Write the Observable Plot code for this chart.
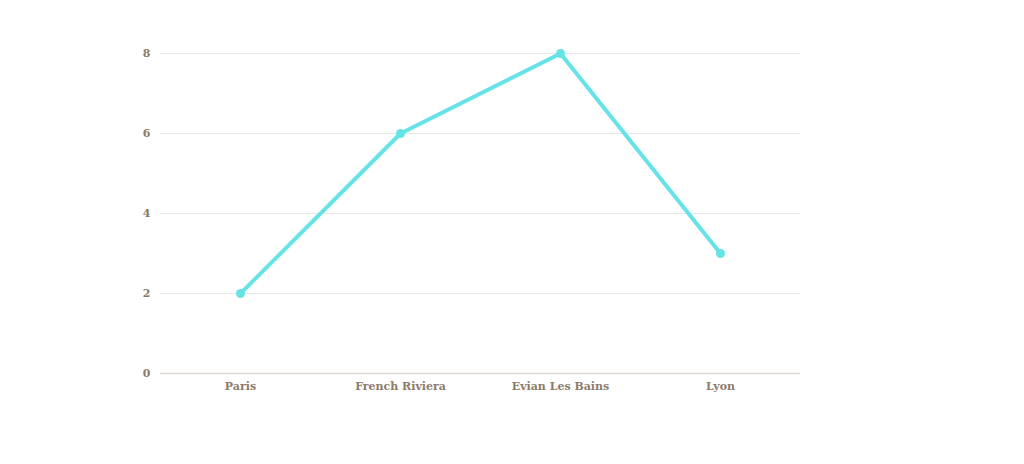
<!DOCTYPE html>
<html><head><meta charset="utf-8">
<script src="https://cdn.jsdelivr.net/npm/d3@7"></script>
<script src="https://cdn.jsdelivr.net/npm/@observablehq/plot@0.6"></script>
<style>
html,body{margin:0;padding:0;background:#fff;}
</style>
</head><body>
<div id="chart"></div>
<script>
const cities = ["Paris", "French Riviera", "Evian Les Bains", "Lyon"];
const values = [2, 6, 8, 3];
const yTicks = [0, 2, 4, 6, 8];

const data = cities.map((c, i) => ({city: c, value: values[i]}));
const textColor = "#8c7b6a";

const chart = Plot.plot({
  width: 1024,
  height: 464,
  marginLeft: 160,
  marginRight: 224,
  marginTop: 53,
  marginBottom: 91,
  style: {fontFamily: "'DejaVu Serif', serif", fontSize: "11px", fontWeight: "bold", color: textColor, background: "#fff"},
  x: {type: "point", domain: cities, padding: 0.5, label: null},
  y: {domain: [0, 8], label: null},
  marks: [
    Plot.ruleY(yTicks.filter(d => d > 0), {stroke: "#e6e6e6", strokeWidth: 1}),
    Plot.ruleY([0], {stroke: "#dcd8d0", strokeWidth: 1.5}),
    Plot.axisY({ticks: yTicks, tickSize: 0, tickPadding: 10, fill: textColor, fontWeight: "bold", label: null}),
    Plot.axisX({tickSize: 0, tickPadding: 9, fill: textColor, fontWeight: "bold", label: null}),
    Plot.line(data, {x: "city", y: "value", stroke: "#66e3e6", strokeWidth: 4}),
    Plot.dot(data, {x: "city", y: "value", fill: "#66e3e6", r: 4.5})
  ]
});
document.getElementById("chart").appendChild(chart);
</script>
</body></html>
